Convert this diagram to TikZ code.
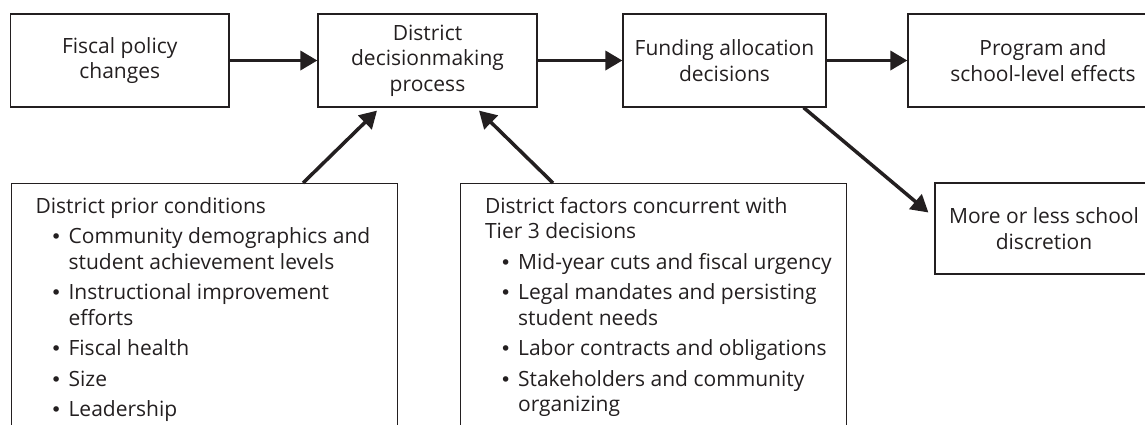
\documentclass[tikz,border=0pt]{standalone}
\usepackage{fontspec}
\setmainfont{Open Sans}
\newfontfamily\dotfont{DejaVu Sans}
\usetikzlibrary{arrows.meta,calc}

\definecolor{ink}{HTML}{231F20}
\newcommand\boxfont{\fontsize{21}{25.5}\selectfont}
% bulleted entry with a hanging indent
\newcommand\listdot{{\dotfont\fontsize{19}{19}\selectfont\char"2022}}
\newcommand\bulletitem[1]{\par\vspace{5pt}{\leftskip=57.5pt\noindent\llap{\makebox[18pt][l]{\listdot}}#1\par}}
\newcommand\listhead[1]{{\leftskip=24.5pt\noindent\strut#1\par}}

\tikzset{
  box/.style={draw=ink, line width=1.2pt, inner sep=0pt, align=center,
              font=\boxfont, text=ink},
  listbox/.style={draw=ink, line width=1.2pt, inner xsep=0pt, inner ysep=12pt,
                  anchor=north west, font=\boxfont, text=ink},
  flow/.style={draw=ink, line width=3.5pt,
               -{Triangle[length=17pt,width=19pt]}}
}

\begin{document}
\begin{tikzpicture}[x=1pt,y=-1pt]
\useasboundingbox (0,0) rectangle (1145,424);

% top row
\node[box, minimum width=218.5pt, minimum height=93pt] (fiscal) at (119.75,60.5)
  {Fiscal policy\\changes};
\node[box, minimum width=219pt, minimum height=93pt] (district) at (427.5,60.5)
  {District\\decisionmaking\\process};
\node[box, minimum width=203pt, minimum height=93pt] (funding) at (724.5,60.5)
  {Funding allocation\\decisions};
\node[box, minimum width=270pt, minimum height=93pt] (program) at (1043,60.5)
  {Program and\\school-level effects};
\node[box, minimum width=218pt, minimum height=91pt] (moreless) at (1044,228.5)
  {More or less school\\discretion};

% lower lists
\node[listbox] (prior) at (10.5,183) {\parbox[t][230pt][t]{386.5pt}{\raggedright
  \listhead{District prior conditions}
  \bulletitem{Community demographics and\\student achievement levels}
  \bulletitem{Instructional improvement\\efforts}
  \bulletitem{Fiscal health}
  \bulletitem{Size}
  \bulletitem{Leadership}}};
\node[listbox] (factors) at (460,183) {\parbox[t][230pt][t]{386pt}{\raggedright
  \listhead{District factors concurrent with\\Tier 3 decisions}
  \bulletitem{Mid-year cuts and fiscal urgency}
  \bulletitem{Legal mandates and persisting\\student needs}
  \bulletitem{Labor contracts and obligations}
  \bulletitem{Stakeholders and community\\organizing}}};

% connectors
\draw[flow] (fiscal) -- (district);
\draw[flow] (district) -- (funding);
\draw[flow] (funding) -- (program);
\draw[flow] ($(funding.south east)+(-23,0)$) -- ($(moreless.west)+(-6,-16)$);
\draw[flow] ($(prior.north west)+(292.5,0)$) -- ($(district.south)+(-50.5,3)$);
\draw[flow] ($(factors.north west)+(93,0)$) -- ($(district.south)+(51.5,3)$);
\end{tikzpicture}
\end{document}
